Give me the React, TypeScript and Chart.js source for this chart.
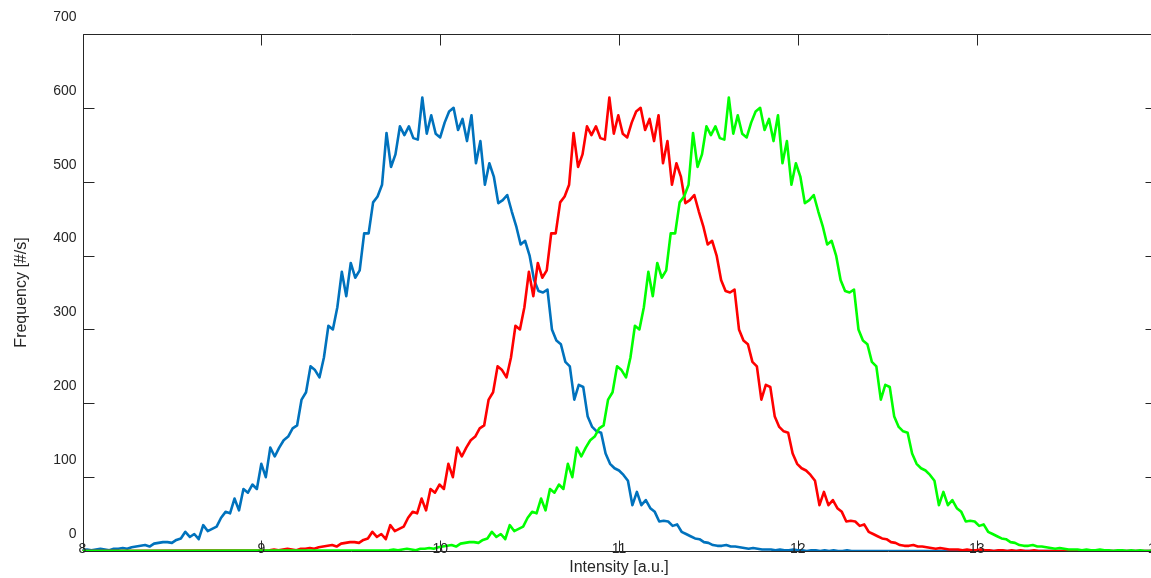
import React, { useEffect, useRef } from "react";
import { Chart, registerables } from "chart.js";

Chart.register(...registerables);

// ---- data ----
// The three curves share one measured profile; each is drawn shifted along the intensity axis.
const profileStart = 8.0; // intensity of the first profile sample (blue series)
const profileStep = 0.025; // spacing of profile samples [a.u.]
const frequencyProfile = [
  1, 2, 1, 2, 3, 2, 1, 3, 3, 4,
  3, 5, 6, 7, 8, 6, 10, 11, 12, 12,
  11, 15, 17, 26, 19, 23, 16, 35, 27, 30,
  33, 45, 53, 51, 71, 55, 84, 79, 90, 84,
  118, 100, 140, 128, 140, 150, 155, 166, 170, 205,
  215, 250, 245, 235, 262, 305, 300, 330, 378, 345,
  390, 370, 380, 430, 430, 472, 480, 496, 566, 520,
  537, 575, 563, 575, 559, 557, 614, 565, 590, 565,
  560, 580, 595, 600, 570, 585, 555, 590, 525, 555,
  496, 525, 507, 471, 475, 482, 460, 440, 415, 420,
  400, 367, 352, 350, 354, 300, 285, 280, 256, 250,
  205, 225, 222, 182, 168, 162, 160, 132, 118, 112,
  109, 103, 95, 62, 80, 62, 69, 58, 53, 40,
  41, 40, 34, 36, 26, 23, 20, 17, 16, 12,
  11, 8, 7, 7, 8, 6, 6, 5, 4, 3,
  4, 3, 2, 2, 2, 1, 2, 1, 1, 2,
  1, 1, 0, 1, 1, 0, 1, 0, 1, 0,
  0, 1, 0,
];
const seriesNames = ["Blue", "Red", "Green"];
const seriesShifts = [0, 1.046, 1.714];
const seriesColors = ["#0072BD", "#FF0000", "#00FF00"];

const xTickValues = [8, 9, 10, 11, 12, 13, 14];
const xTickLabels = ["8", "9", "10", "11", "12", "13", "14"];
const yTickValues = [0, 100, 200, 300, 400, 500, 600, 700];
const xMin = 8;
const xMax = 14;
const yMin = 0;
const yMax = 700;

const xTitle = "Intensity [a.u.]";
const yTitle = "Frequency [#/s]";

const FONT = "'Liberation Sans', Arial, Helvetica, sans-serif";
const INK = "#262626";

function buildSeries(shift: number) {
  const pts: { x: number; y: number }[] = [{ x: xMin, y: 0 }];
  frequencyProfile.forEach((v, i) => {
    const x = profileStart + i * profileStep + shift;
    if (x <= xMax) pts.push({ x, y: v });
  });
  pts.push({ x: xMax, y: 0 });
  return pts;
}

const framePlugin = {
  id: "frame",
  beforeDatasetsDraw(chart: any) {
    const { ctx, chartArea, scales } = chart;
    const { left, right, top, bottom } = chartArea;
    const sx = scales.x;
    const sy = scales.y;
    const snap = (v: number) => Math.round(v) + 0.5;
    const tl = 11;
    ctx.save();
    ctx.strokeStyle = INK;
    ctx.lineWidth = 1;
    ctx.beginPath();
    const L = snap(left), R = snap(right), T = snap(top), B = snap(bottom);
    ctx.moveTo(L, B);
    ctx.lineTo(L, T);
    ctx.lineTo(R, T);
    ctx.lineTo(R, B);
    ctx.lineTo(L, B);
    xTickValues.forEach((v) => {
      const px = snap(sx.getPixelForValue(v));
      ctx.moveTo(px, T);
      ctx.lineTo(px, T + tl);
      ctx.moveTo(px, B);
      ctx.lineTo(px, B - tl);
    });
    yTickValues.forEach((v) => {
      const py = snap(sy.getPixelForValue(v));
      ctx.moveTo(L, py);
      ctx.lineTo(L + tl, py);
      ctx.moveTo(R, py);
      ctx.lineTo(R - tl, py);
    });
    ctx.stroke();
    ctx.restore();
  },
  afterDatasetsDraw(chart: any) {
    // x tick labels sit on the axis line in the reference
    const { ctx, chartArea, scales } = chart;
    const sx = scales.x;
    ctx.save();
    ctx.fillStyle = INK;
    ctx.font = `14px ${FONT}`;
    ctx.textAlign = "center";
    ctx.textBaseline = "middle";
    xTickValues.forEach((v, i) => {
      ctx.fillText(xTickLabels[i], sx.getPixelForValue(v), chartArea.bottom - 2);
    });
    ctx.restore();
  },
};

export default function App() {
  const canvasRef = useRef<HTMLCanvasElement | null>(null);

  useEffect(() => {
    const canvas = canvasRef.current;
    if (!canvas) return;
    // draw order: green on top, then red, then blue
    const order = [2, 1, 0];
    const chart = new Chart(canvas, {
      type: "line",
      data: {
        datasets: order.map((i) => ({
          label: seriesNames[i],
          data: buildSeries(seriesShifts[i]),
          borderColor: seriesColors[i],
          backgroundColor: seriesColors[i],
          borderWidth: 2.6,
          borderJoinStyle: "round" as const,
          borderCapStyle: "round" as const,
          pointRadius: 0,
          tension: 0,
          fill: false,
        })),
      },
      options: {
        responsive: false,
        animation: false,
        devicePixelRatio: 1,
        layout: { padding: { left: 0, top: 34, right: 4.5, bottom: 0 } },
        plugins: {
          legend: { display: false },
          tooltip: { enabled: false },
        },
        scales: {
          x: {
            type: "linear",
            min: xMin,
            max: xMax,
            afterBuildTicks: (scale: any) => {
              scale.ticks = xTickValues.map((v) => ({ value: v }));
            },
            afterFit: (scale: any) => {
              scale.height = 27;
            },
            grid: { display: false, drawTicks: false },
            border: { display: false },
            ticks: { display: false },
            title: {
              display: true,
              text: xTitle,
              color: INK,
              font: { family: FONT, size: 16 },
              padding: { top: 0, bottom: 1 },
            },
          },
          y: {
            type: "linear",
            min: yMin,
            max: yMax,
            afterBuildTicks: (scale: any) => {
              scale.ticks = yTickValues.map((v) => ({ value: v }));
            },
            afterFit: (scale: any) => {
              scale.width = 82.5;
            },
            grid: { display: false, drawTicks: false },
            border: { display: false },
            ticks: {
              autoSkip: false,
              padding: 6,
              labelOffset: -17,
              color: INK,
              font: { family: FONT, size: 14 },
              callback: (v: any) => String(v),
            },
            title: {
              display: true,
              text: yTitle,
              color: INK,
              font: { family: FONT, size: 16 },
              padding: { top: 12, bottom: 0 },
            },
          },
        },
      },
      plugins: [framePlugin],
    });
    return () => chart.destroy();
  }, []);

  return (
    <div
      style={{
        position: "fixed",
        left: 0,
        top: 0,
        width: 1151,
        height: 578,
        overflow: "hidden",
        background: "#ffffff",
      }}
    >
      <canvas
        ref={canvasRef}
        width={1160}
        height={578}
        style={{ display: "block", width: 1160, height: 578 }}
      />
    </div>
  );
}
